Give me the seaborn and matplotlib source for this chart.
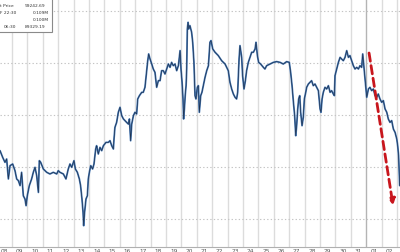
import matplotlib
matplotlib.use("Agg")
import matplotlib.pyplot as plt
import seaborn as sns
import pandas as pd
from matplotlib.ticker import FixedLocator, FixedFormatter

# days since Jan 8 00:00 (fractional)
days = [0.23, 0.40, 0.55, 0.66, 0.77, 0.88, 1.05, 1.20, 1.31, 1.42, 1.53, 1.63, 1.74, 1.85, 1.92,
        2.00, 2.13, 2.28, 2.39, 2.50, 2.61, 2.72, 2.78, 2.87, 3.04, 3.26, 3.47, 3.69, 3.91, 4.01,
        4.12, 4.34, 4.51, 4.66, 4.77, 4.88, 5.03, 5.12, 5.25, 5.38, 5.46, 5.55, 5.62, 5.66, 5.72,
        5.81, 5.90, 5.96, 6.03, 6.12, 6.24, 6.33, 6.44, 6.50, 6.61, 6.72, 6.83, 6.94, 7.11, 7.26,
        7.37, 7.48, 7.59, 7.63, 7.69, 7.80, 7.91, 8.02, 8.13, 8.24, 8.34, 8.45, 8.56, 8.63, 8.71,
        8.78, 8.89, 8.99, 9.10, 9.17, 9.28, 9.43, 9.53, 9.64, 9.75, 9.82, 9.88, 9.97, 10.08, 10.18,
        10.29, 10.40, 10.51, 10.62, 10.72, 10.83, 10.94, 11.05, 11.16, 11.27, 11.37, 11.48, 11.59,
        11.70, 11.81, 11.92, 11.98, 12.05, 12.11, 12.15, 12.20, 12.26, 12.31, 12.35, 12.39, 12.44,
        12.48, 12.56, 12.67, 12.74, 12.82, 12.89, 12.95, 13.04, 13.11, 13.17, 13.26, 13.34, 13.43,
        13.54, 13.65, 13.76, 13.86, 13.93, 14.04, 14.19, 14.40, 14.62, 14.84, 15.05, 15.16, 15.27,
        15.38, 15.49, 15.59, 15.66, 15.75, 15.81, 15.92, 15.98, 16.07, 16.16, 16.24, 16.35, 16.46,
        16.57, 16.68, 16.79, 16.85, 16.94, 17.02, 17.15, 17.33, 17.43, 17.54, 17.76, 17.98, 18.19,
        18.41, 18.62, 18.84, 19.01, 19.10, 19.19, 19.28, 19.36, 19.43, 19.49, 19.56, 19.62, 19.69,
        19.75, 19.84, 19.92, 19.99, 20.08, 20.14, 20.25, 20.36, 20.46, 20.57, 20.68, 20.79, 20.90,
        21.01, 21.07, 21.14, 21.22, 21.33, 21.44, 21.55, 21.66, 21.76, 21.87, 21.94, 21.98, 22.09,
        22.20, 22.31, 22.41, 22.52, 22.63, 22.74, 22.85, 22.95, 23.06, 23.17, 23.28, 23.39, 23.50,
        23.60, 23.71, 23.78, 23.84, 23.91, 23.97, 24.04, 24.15, 24.25, 24.36, 24.47, 24.58, 24.69,
        24.79, 24.90, 25.01, 25.12, 25.23, 25.34, 25.44, 25.55, 25.66, 25.77, 25.88, 25.99, 26.05,
        26.11, 26.18]

# price in thousands of USD
price_k = [96.57, 95.93, 95.45, 95.77, 93.85, 95.13, 95.29, 94.65, 93.85, 93.69, 93.21, 94.49, 92.24, 91.92, 91.28,
           92.24, 93.21, 93.85, 94.49, 94.97, 94.17, 92.56, 95.61, 95.45, 94.81, 94.49, 94.33, 94.49, 94.33, 94.65,
           94.49, 94.33, 93.85, 94.81, 95.29, 94.97, 95.61, 94.81, 94.49, 93.85, 93.21, 91.92, 90.64, 89.36, 90.64,
           91.92, 92.24, 93.85, 94.49, 95.13, 94.81, 95.29, 96.73, 97.05, 96.25, 96.89, 96.57, 97.05, 97.37, 97.37,
           97.53, 97.05, 96.73, 97.69, 98.81, 99.29, 100.26, 100.74, 99.94, 99.62, 99.46, 99.29, 99.13, 99.62, 97.53,
           99.13, 99.94, 100.26, 100.10, 101.54, 101.86, 102.18, 102.18, 102.66, 104.26, 105.22, 105.87, 105.38, 104.90, 104.42,
           104.10, 102.66, 103.30, 103.30, 104.26, 104.26, 103.94, 104.42, 104.90, 104.58, 105.06, 104.74, 104.90,
           104.26, 104.74, 106.19, 104.42, 103.14, 101.54, 99.62, 100.58, 102.02, 102.82, 104.42, 108.27, 108.91,
           108.27, 108.59, 107.95, 106.99, 105.06, 101.86, 101.54, 102.66, 102.82, 100.26, 101.86, 102.18, 102.82,
           103.62, 104.26, 104.74, 106.99, 107.15, 106.35, 106.03, 105.71, 105.22, 104.90, 104.26, 103.14, 102.50,
           102.02, 101.70, 101.54, 102.18, 105.38, 106.67, 105.54, 103.78, 102.50, 103.30, 104.26, 105.06, 105.54,
           106.03, 106.03, 106.35, 106.99, 105.71, 105.06, 104.90, 104.58, 104.42, 104.74, 104.90, 105.06, 105.13,
           105.06, 104.90, 105.13, 105.06, 104.10, 102.82, 101.22, 99.94, 98.01, 98.97, 100.58, 101.54, 101.86,
           100.26, 98.97, 99.78, 101.54, 102.18, 102.66, 102.98, 103.14, 103.30, 102.82, 102.98, 102.66, 102.34,
           100.58, 100.26, 101.54, 102.18, 102.66, 102.50, 102.82, 102.18, 102.34, 102.02, 101.86, 103.78, 104.42,
           105.06, 105.54, 105.38, 105.22, 105.54, 106.19, 105.54, 105.71, 105.22, 104.74, 104.42, 104.58, 104.42,
           104.74, 104.58, 105.87, 104.90, 103.78, 102.82, 101.70, 102.50, 102.66, 102.34, 102.50, 101.86, 101.70,
           102.02, 101.54, 101.22, 101.38, 100.58, 100.26, 99.62, 99.29, 99.46, 98.65, 98.33, 97.69, 97.05,
           96.09, 93.21]

day_labels = ["08", "09", "10", "11", "12", "13", "14", "15", "16", "17", "18", "19", "20",
              "21", "22", "23", "24", "25", "26", "27", "28", "29", "30", "31", "01", "02"]
price_levels = [90, 95, 100, 105, 110]

# visible fragments of the (cropped) tooltip
tooltip_labels = ["t Price", "F 22:30", "", "06:30"]
tooltip_values = ["99242.69", "0.109M", "0.100M", "89329.19"]

df = pd.DataFrame({"day": days, "price": price_k})

sns.set_theme(style="white")
plt.rcParams["font.family"] = ["DejaVu Sans"]

fig = plt.figure(figsize=(4.0, 2.53), dpi=100)
ax = fig.add_axes([0, 5 / 253, 1, 248 / 253])
ax.set_facecolor("white")

# grid
for i in range(len(day_labels) + 1):
    col = "#b4b4b4" if i == day_labels.index("01") else "#dcdcdc"
    ax.axvline(i, color=col, lw=1.0, zorder=0)
for lv in price_levels:
    ax.axhline(lv, color="#c4c4c4", lw=0.8, ls=(0, (1.2, 2.0)), zorder=0)

sns.lineplot(data=df, x="day", y="price", ax=ax, color="#4a7cb8", linewidth=1.3, zorder=3)
sns.lineplot(data=df, x="day", y="price", ax=ax, color="#1a2a44", linewidth=0.5, alpha=0.9, zorder=4)

# red dashed arrow
ax.annotate("", xy=(25.75, 91.3), xytext=(24.19, 105.96),
            arrowprops=dict(arrowstyle="-|>", color="#c8161d", lw=2.0, ls=(0, (3, 1.6)),
                            mutation_scale=9, shrinkA=0, shrinkB=0), zorder=6)

ax.set_xlim(0.227, 26.2)
ax.set_ylim(87.31, 111.15)
ax.set_xlabel("")
ax.set_ylabel("")
ax.set_yticks([])
ax.xaxis.set_major_locator(FixedLocator([i + 0.5 for i in range(len(day_labels))]))
ax.xaxis.set_major_formatter(FixedFormatter(day_labels))
ax.tick_params(axis="x", length=0, labelsize=4.2, labelcolor="#555555", pad=0.4)
for s in ["top", "left", "right"]:
    ax.spines[s].set_visible(False)
ax.spines["bottom"].set_color("#b0b0b0")
ax.spines["bottom"].set_linewidth(0.8)

# tooltip box
box = plt.Rectangle((-0.02, 1 - 33 / 253), 52 / 400 + 0.02, 33 / 253 + 0.02, transform=fig.transFigure,
                    facecolor="white", edgecolor="#8a8a8a", lw=0.8, zorder=10)
fig.add_artist(box)
ys = [6, 13, 20, 27]
label_left = [0.5, 0.5, 0.5, 4.0]
value_right = [45, 49, 49, 45]
for lab, val, yy, ll, vr in zip(tooltip_labels, tooltip_values, ys, label_left, value_right):
    if lab:
        fig.text(ll / 400, 1 - yy / 253, lab, ha="left", va="center", fontsize=3.2,
                 color="#333333", zorder=11)
    fig.text(vr / 400, 1 - yy / 253, val, ha="right", va="center", fontsize=3.2,
             color="#333333", zorder=11)

fig.savefig("out.png", dpi=100)
